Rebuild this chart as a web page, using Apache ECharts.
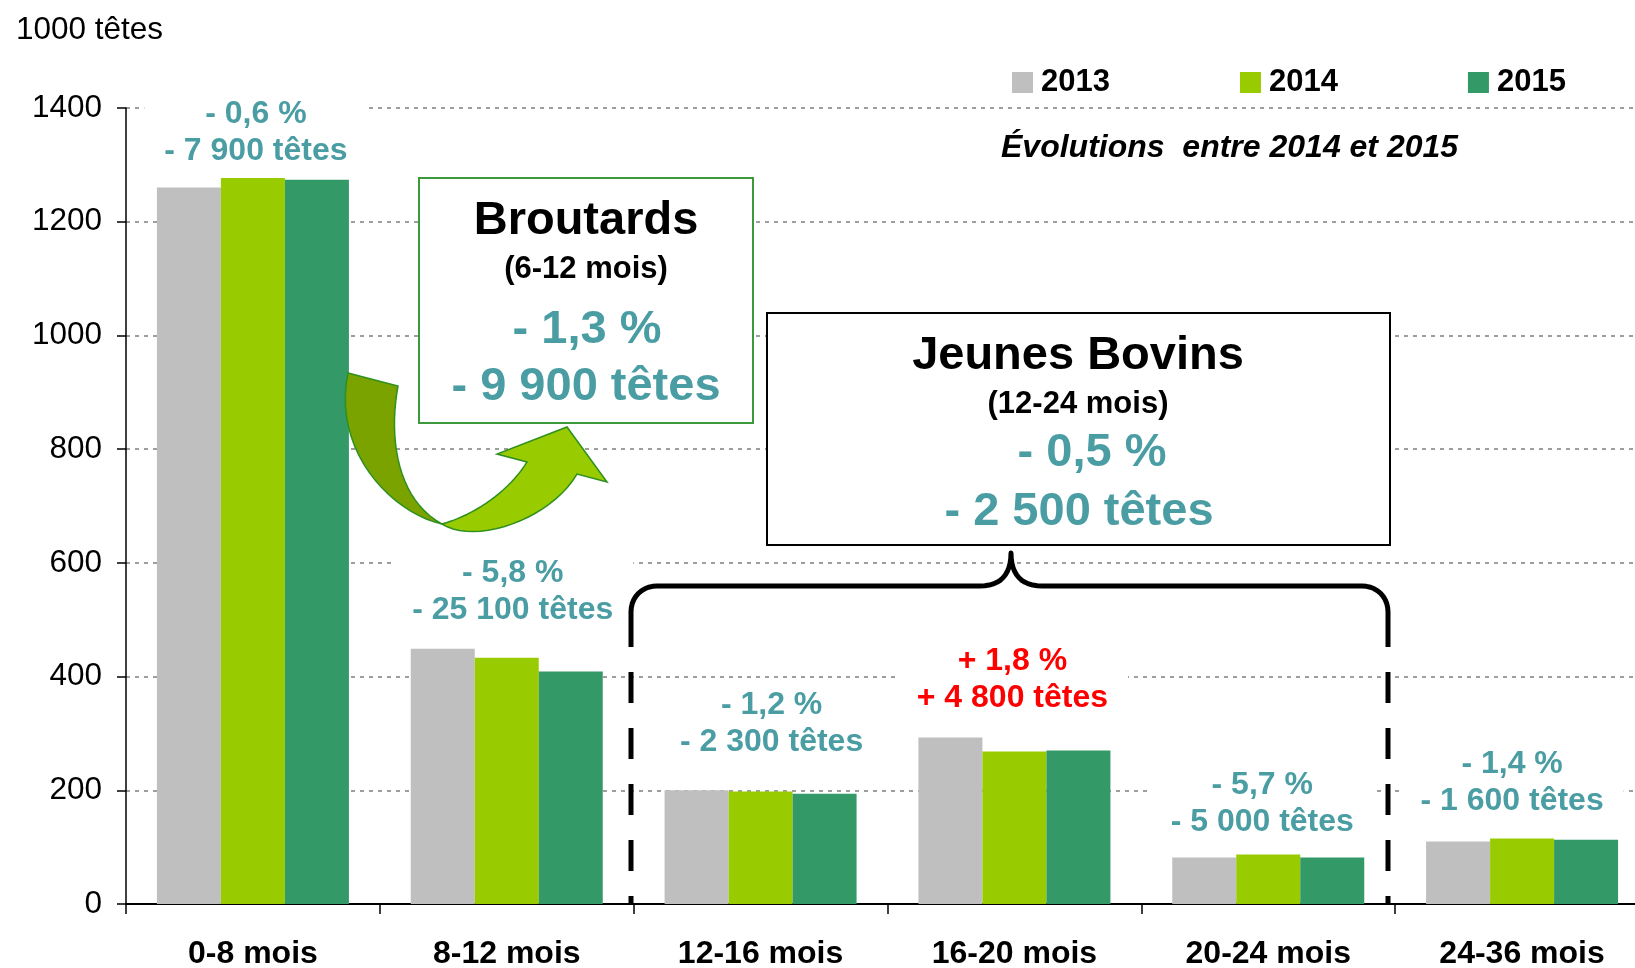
<!DOCTYPE html>
<html lang="fr">
<head>
    <meta charset="UTF-8">
    <title>Cheptel bovin par classe d'âge</title>
    <style>html, body {margin: 0; padding: 0; background: #fff;}</style>
</head>
<body>
<div class="main" style="width: 1635px;height: 968px"></div>
<script src="https://cdn.jsdelivr.net/npm/echarts@6/dist/echarts.min.js"></script>
<script>
    // catégories d'âge et effectifs (1000 têtes)
    var categories = ['0-8 mois', '8-12 mois', '12-16 mois', '16-20 mois', '20-24 mois', '24-36 mois'];
    var years = ['2013', '2014', '2015'];
    var values2013 = [1260, 449, 200, 293, 82, 110];
    var values2014 = [1277, 433, 198, 268, 87, 115];
    var values2015 = [1274, 409, 194, 270, 82, 113];
    // évolutions 2014 / 2015
    var evolPct = ['- 0,6 %', '- 5,8 %', '- 1,2 %', '+ 1,8 %', '- 5,7 %', '- 1,4 %'];
    var evolTetes = ['- 7 900 têtes', '- 25 100 têtes', '- 2 300 têtes', '+ 4 800 têtes', '- 5 000 têtes', '- 1 600 têtes'];
    var yMin = 0, yMax = 1400, yStep = 200;

    // décalage des étiquettes [dx, distance au-dessus de la barre]
    var labelShift = [[3, 5], [6, 26], [11, 28], [-2, 32], [-6, 11], [-10, 16]];

    var colors = ['#BFBFBF', '#99CC00', '#339966'];
    var teal = '#4A9DA3';
    var font = '"Liberation Sans", Arial, sans-serif';

    var main = document.querySelector(".main");
    var chart = echarts.init(main);

    // points d'une courbe de Bézier cubique
    function bez(p0, p1, p2, p3, n) {
        var pts = [];
        for (var i = 0; i <= n; i++) {
            var t = i / n, u = 1 - t;
            pts.push([
                u * u * u * p0[0] + 3 * u * u * t * p1[0] + 3 * u * t * t * p2[0] + t * t * t * p3[0],
                u * u * u * p0[1] + 3 * u * u * t * p1[1] + 3 * u * t * t * p2[1] + t * t * t * p3[1]
            ]);
        }
        return pts;
    }

    // flèche verte (Broutards)
    var arrowDark = [[348, 373], [398, 386]]
        .concat(bez([398, 386], [388, 440], [398, 500], [442, 524], 20))
        .concat(bez([442, 524], [390, 512], [332, 450], [348, 373], 20));
    var arrowLight = bez([442, 524], [475, 545], [550, 520], [577, 474], 20)
        .concat([[607, 482], [567, 427], [497, 454], [527, 462]])
        .concat(bez([527, 462], [510, 490], [475, 515], [442, 524], 20));

    // accolade Jeunes Bovins
    var brace = [[631, 647], [631, 612]]
        .concat(bez([631, 612], [631, 597], [642, 586], [657, 586], 10))
        .concat(bez([980, 586], [1000, 586], [1011, 575], [1011, 553], 12))
        .concat(bez([1011, 553], [1011, 575], [1022, 586], [1042, 586], 12))
        .concat(bez([1362, 586], [1377, 586], [1388, 597], [1388, 612], 10))
        .concat([[1388, 647]]);

    function txt(text, x, y, size, color, extra) {
        return {
            type: 'text', z: 102,
            style: {
                text: text, x: x, y: y,
                font: (extra || 'bold') + ' ' + size + 'px ' + font,
                fill: color,
                textAlign: 'center', textVerticalAlign: 'middle',
                align: 'center', verticalAlign: 'middle'
            }
        };
    }

    var option = {
        animation: false,
        title: {
            text: '1000 têtes',
            left: 11, top: 9,
            textStyle: {fontFamily: font, fontSize: 31.5, fontWeight: 'normal', color: '#000'}
        },
        legend: {
            data: years,
            left: 1012, top: 67, padding: 0,
            icon: 'rect',
            itemWidth: 21, itemHeight: 21, itemGap: 130,
            textStyle: {fontFamily: font, fontSize: 31, fontWeight: 'bold', color: '#000', padding: [0, 0, 0, 3]}
        },
        grid: {left: 126, top: 108, width: 1523, height: 796, outerBoundsMode: 'none', containLabel: false},
        xAxis: {
            type: 'category',
            data: categories,
            axisLine: {lineStyle: {color: '#000', width: 2}},
            axisTick: {show: true, length: 10, lineStyle: {color: '#000', width: 1.5}},
            axisLabel: {interval: 0, margin: 34, fontFamily: font, fontSize: 32, fontWeight: 'bold', color: '#000'}
        },
        yAxis: {
            type: 'value',
            min: yMin, max: yMax, interval: yStep,
            axisLine: {show: true, lineStyle: {color: '#000', width: 1.5}},
            axisTick: {show: true, length: 9, lineStyle: {color: '#000', width: 1.5}},
            axisLabel: {
                margin: 24, fontFamily: font, fontSize: 31.5, color: '#000',
                formatter: function (v) { return String(v); }
            },
            splitLine: {lineStyle: {color: '#9E9E9E', width: 2, type: [4, 5]}}
        },
        series: [
            {
                name: years[0], type: 'bar', barWidth: 64, barGap: '0%',
                itemStyle: {color: colors[0]},
                data: values2013
            },
            {
                name: years[1], type: 'bar', barWidth: 64, barGap: '0%',
                itemStyle: {color: colors[1]},
                label: {
                    show: true, position: 'top',
                    fontFamily: font, fontSize: 32, fontWeight: 'bold', lineHeight: 37,
                    align: 'center',
                    backgroundColor: '#fff', padding: [3, 20],
                    formatter: function (p) {
                        return evolPct[p.dataIndex] + '\n' + evolTetes[p.dataIndex];
                    }
                },
                data: values2014.map(function (v, i) {
                    return {
                        value: v,
                        label: {
                            distance: labelShift[i][1],
                            offset: [labelShift[i][0], 0],
                            color: evolPct[i].charAt(0) === '+' ? '#FF0000' : teal
                        }
                    };
                })
            },
            {
                name: years[2], type: 'bar', barWidth: 64, barGap: '0%',
                itemStyle: {color: colors[2]},
                data: values2015
            }
        ],
        graphic: [
            {
                type: 'text', z: 102,
                style: {
                    text: 'Évolutions  entre 2014 et 2015', x: 1001, y: 148,
                    font: 'italic bold 32px ' + font, fill: '#000',
                    textAlign: 'left', textVerticalAlign: 'middle',
                    align: 'left', verticalAlign: 'middle'
                }
            },
            // flèche
            {type: 'polygon', z: 100, shape: {points: arrowDark}, style: {fill: '#7AA300', stroke: '#2F8F1F', lineWidth: 1.5}},
            {type: 'polygon', z: 100, shape: {points: arrowLight}, style: {fill: '#99CC00', stroke: '#2F8F1F', lineWidth: 1.5}},
            // cadre Broutards
            {type: 'rect', z: 101, shape: {x: 419, y: 178, width: 334, height: 245}, style: {fill: '#fff', stroke: '#3C9A3C', lineWidth: 2}},
            txt('Broutards', 586, 221, 47, '#000'),
            txt('(6-12 mois)', 586, 269, 31, '#000'),
            txt('- 1,3 %', 587, 330, 47, teal),
            txt('- 9 900 têtes', 586, 387, 47, teal),
            // cadre Jeunes Bovins
            {type: 'rect', z: 101, shape: {x: 767, y: 313, width: 623, height: 232}, style: {fill: '#fff', stroke: '#000', lineWidth: 2}},
            txt('Jeunes Bovins', 1078, 356, 47, '#000'),
            txt('(12-24 mois)', 1078, 404, 31, '#000'),
            txt('- 0,5 %', 1092, 453, 47, teal),
            txt('- 2 500 têtes', 1079, 512, 47, teal),
            // accolade
            {type: 'polyline', z: 100, shape: {points: brace}, style: {fill: null, stroke: '#000', lineWidth: 5, lineJoin: 'round'}},
            {type: 'line', z: 100, shape: {x1: 631, y1: 672, x2: 631, y2: 903}, style: {stroke: '#000', lineWidth: 5, lineDash: [31, 25]}},
            {type: 'line', z: 100, shape: {x1: 1388, y1: 672, x2: 1388, y2: 903}, style: {stroke: '#000', lineWidth: 5, lineDash: [31, 25]}}
        ]
    };
    chart.setOption(option);
</script>
</body>
</html>
